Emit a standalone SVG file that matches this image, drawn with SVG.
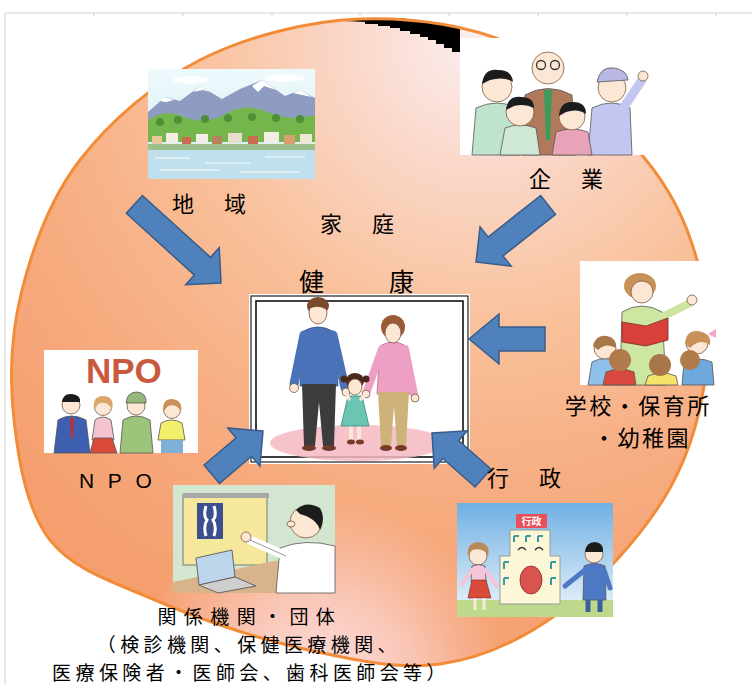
<svg xmlns="http://www.w3.org/2000/svg" width="752" height="685" viewBox="0 0 752 685">
  <defs>
    <style>
      .lbl { font-family: "Noto Sans CJK JP", "Noto Sans", sans-serif; fill: #000; }
      .lat { font-family: "Liberation Sans", Arial, sans-serif; fill: #000; }
      .arrow { fill: #4f81bd; stroke: #385d8a; stroke-width: 1.5; stroke-linejoin: miter; }
      .skin { fill: #fce6d4; stroke: #7a5a44; stroke-width: 0.8; }
      .ol { stroke: #555; stroke-width: 0.8; }
      .tick { stroke: #d0d0d0; stroke-width: 1; }
    </style>
    <!-- outline of the large oval -->
    <path id="oval" d="M360,19 C413.3,17 473,25.3 520,48 C567,70.7 612.5,119.7 642,155 C671.5,190.3 686.5,222.5 697,260 C707.5,297.5 710.7,340 705,380 C699.3,420 687.2,461.3 663,500 C638.8,538.7 597.2,584.7 560,612 C522.8,639.3 483.3,658 440,664 C396.7,670 347.5,658.7 300,648 C252.5,637.3 196.7,618 155,600 C113.3,582 73.5,570 50,540 C26.5,510 18.7,461.7 14,420 C9.3,378.3 11,333.3 22,290 C33,246.7 50.3,198.3 80,160 C109.7,121.7 153.3,83.5 200,60 C246.7,36.5 306.7,21 360,19 Z"/>
    <clipPath id="ovalClip"><use href="#oval"/></clipPath>
    <radialGradient id="peach" gradientUnits="userSpaceOnUse" cx="480" cy="40" r="640">
      <stop offset="0" stop-color="#fbeef0"/>
      <stop offset="0.22" stop-color="#fad6c6"/>
      <stop offset="0.45" stop-color="#f9c19b"/>
      <stop offset="0.7" stop-color="#f7ad82"/>
      <stop offset="1" stop-color="#f59e6e"/>
    </radialGradient>
    <radialGradient id="pinkGlow" gradientUnits="userSpaceOnUse" cx="320" cy="690" r="190">
      <stop offset="0" stop-color="#fde6ee" stop-opacity="0.95"/>
      <stop offset="0.5" stop-color="#fce0e4" stop-opacity="0.6"/>
      <stop offset="1" stop-color="#fbd8d8" stop-opacity="0"/>
    </radialGradient>
    <linearGradient id="skyL" x1="0" y1="0" x2="0" y2="1">
      <stop offset="0" stop-color="#eef9fc"/>
      <stop offset="1" stop-color="#d2ebf4"/>
    </linearGradient>
    <linearGradient id="skyG" x1="0" y1="0" x2="0" y2="1">
      <stop offset="0" stop-color="#6fb0e2"/>
      <stop offset="1" stop-color="#eef6fc"/>
    </linearGradient>
  </defs>

  <!-- page -->
  <rect width="752" height="685" fill="#fff"/>
  <g id="page-frame">
    <line x1="5" y1="13" x2="752" y2="13" class="tick"/>
    <line x1="5" y1="13" x2="5" y2="685" class="tick"/>
    <path class="tick" d="M94,13v3 M183,13v3 M272,13v3 M360,13v3 M449,13v3 M538,13v3 M627,13v3 M716,13v3"/>
  </g>

  <!-- background oval -->
  <g id="oval-bg">
    <use href="#oval" fill="url(#peach)"/>
    <rect x="0" y="450" width="752" height="235" fill="url(#pinkGlow)" clip-path="url(#ovalClip)"/>
    <polygon fill="#000" points="345,21 360,19 400,18 440,23 460,28 460,52 452,52 452,48 444,48 444,44 436,44 436,40 428,40 428,37 420,37 420,34 410,34 410,31 400,31 400,28 390,28 390,26 378,26 378,24 365,24 365,22"/>
    <use href="#oval" fill="none" stroke="#f28c38" stroke-width="3"/>
  </g>

  <!-- 地域 -->
  <g id="node-chiiki">
    <rect x="148" y="69" width="167" height="110" fill="url(#skyL)"/>
    <ellipse cx="190" cy="80" rx="18" ry="4" fill="#fff" opacity="0.8"/>
    <ellipse cx="285" cy="78" rx="20" ry="4" fill="#fff" opacity="0.8"/>
    <polygon fill="#8f9cc2" points="148,112 165,97 180,101 200,86 222,99 240,89 262,80 285,96 300,90 315,98 315,128 148,128"/>
    <polygon fill="#fff" points="193,92 200,86 210,92 203,90"/>
    <polygon fill="#fff" points="252,86 262,80 276,90 264,86 258,92"/>
    <polygon fill="#fff" points="293,93 300,90 312,97 302,95"/>
    <polygon fill="#fff" points="160,101 165,97 174,100 166,102"/>
    <path d="M148,120 Q165,108 185,117 T225,114 T268,112 T315,115 V142 H148 Z" fill="#74b64c"/>
    <g fill="#4f8f36">
      <circle cx="160" cy="122" r="4"/><circle cx="178" cy="120" r="4"/><circle cx="205" cy="119" r="4"/>
      <circle cx="228" cy="118" r="4"/><circle cx="252" cy="117" r="4"/><circle cx="276" cy="118" r="4"/>
      <circle cx="300" cy="119" r="4"/>
    </g>
    <g>
      <rect x="152" y="136" width="10" height="8" fill="#e8c89a"/>
      <rect x="166" y="133" width="12" height="10" fill="#f3efe6"/>
      <rect x="182" y="137" width="9" height="7" fill="#c96b4f"/>
      <rect x="196" y="134" width="12" height="9" fill="#f3efe6"/>
      <rect x="212" y="136" width="10" height="8" fill="#b5845a"/>
      <rect x="228" y="133" width="14" height="10" fill="#e8dccc"/>
      <rect x="248" y="136" width="10" height="8" fill="#c96b4f"/>
      <rect x="264" y="132" width="15" height="11" fill="#f3efe6"/>
      <rect x="284" y="135" width="11" height="9" fill="#d7a070"/>
      <rect x="300" y="134" width="12" height="10" fill="#efe8da"/>
    </g>
    <rect x="148" y="144" width="167" height="6" fill="#9dbf8b"/>
    <rect x="148" y="150" width="167" height="29" fill="#bfe0ec"/>
    <path d="M155,158 H190 M205,163 H250 M265,157 H305 M160,170 H220 M240,172 H300" stroke="#e6f4f8" stroke-width="1.5"/>
  </g>

  <!-- 企業 -->
  <g id="node-kigyo">
    <rect x="460" y="38" width="190" height="117" fill="#fff"/>
    <!-- old man -->
    <path d="M522,155 L525,95 Q548,82 572,95 L576,155 Z" fill="#b07a5a" class="ol"/>
    <path d="M544,90 L552,90 L550,140 L546,140 Z" fill="#3c9a5c"/>
    <circle cx="548" cy="68" r="16" class="skin"/>
    <circle cx="541" cy="65" r="4.5" fill="none" stroke="#333" stroke-width="1.3"/>
    <circle cx="555" cy="65" r="4.5" fill="none" stroke="#333" stroke-width="1.3"/>
    <!-- left boy -->
    <path d="M472,155 L476,108 Q497,98 518,108 L520,155 Z" fill="#bfe3cf" class="ol"/>
    <circle cx="497" cy="87" r="15" class="skin"/>
    <path d="M482,84 Q484,68 498,70 Q512,70 513,82 Q504,76 490,80 Z" fill="#1c1c1c"/>
    <!-- person with cap -->
    <path d="M588,155 L592,108 Q612,98 630,108 L632,155 Z" fill="#c3c6f0" class="ol"/>
    <path d="M622,110 L642,80" stroke="#c3c6f0" stroke-width="9" stroke-linecap="round"/>
    <circle cx="643" cy="76" r="5" class="skin"/>
    <circle cx="612" cy="88" r="14" class="skin"/>
    <path d="M597,82 Q600,66 614,68 Q627,70 628,80 Z" fill="#b8b8e2" class="ol"/>
    <!-- front kids -->
    <path d="M500,155 L505,128 Q520,122 536,128 L540,155 Z" fill="#cfe9d6" class="ol"/>
    <circle cx="520" cy="112" r="14" class="skin"/>
    <path d="M506,110 Q508,95 521,97 Q534,97 534,108 Q525,103 514,106 Z" fill="#1c1c1c"/>
    <path d="M552,155 L556,132 Q572,126 588,132 L592,155 Z" fill="#e9a3b8" class="ol"/>
    <circle cx="572" cy="117" r="13" class="skin"/>
    <path d="M559,116 Q560,101 573,102 Q586,102 586,114 Q578,108 566,112 Z" fill="#1c1c1c"/>
  </g>

  <!-- 学校・保育所・幼稚園 -->
  <g id="node-gakko">
    <rect x="580" y="261" width="140" height="124" fill="#fff"/>
    <ellipse cx="640" cy="286" rx="16" ry="13" fill="#c8915a"/>
    <path d="M620,385 L622,312 Q642,300 662,312 L666,385 Z" fill="#cde7a2" class="ol"/>
    <circle cx="642" cy="292" r="11" class="skin"/>
    <path d="M660,318 L690,303" stroke="#cde7a2" stroke-width="8" stroke-linecap="round"/>
    <circle cx="692" cy="300" r="5" class="skin"/>
    <polygon points="622,322 646,326 668,318 668,340 646,346 622,342" fill="#d8403a" stroke="#7a2a22" stroke-width="0.8"/>
    <!-- children -->
    <path d="M588,385 L592,362 Q605,355 620,362 L622,385 Z" fill="#8fc0ea" class="ol"/>
    <circle cx="605" cy="348" r="11" class="skin"/>
    <path d="M593,346 Q596,334 607,336 Q617,338 616,348 Q606,342 598,350 Z" fill="#a87648"/>
    <path d="M603,385 L606,372 Q620,366 634,372 L636,385 Z" fill="#d8483f" class="ol"/>
    <circle cx="620" cy="360" r="11" fill="#b07a4a"/>
    <path d="M645,385 L648,376 Q662,370 676,376 L678,385 Z" fill="#f5e26a" class="ol"/>
    <circle cx="660" cy="365" r="11" fill="#a87648"/>
    <path d="M682,385 L684,362 Q698,356 712,362 L714,385 Z" fill="#6fa8dc" class="ol"/>
    <circle cx="697" cy="343" r="11" class="skin"/>
    <path d="M685,344 Q686,330 698,331 Q712,333 710,345 Q700,338 690,348 Z" fill="#c8915a"/>
    <path d="M708,334 l8,-5 l0,9 Z" fill="#f2a7c3"/>
    <circle cx="690" cy="360" r="10" fill="#b07a4a"/>
  </g>

  <!-- NPO -->
  <g id="node-npo">
    <rect x="44" y="350" width="154" height="103" fill="#fff"/>
    <text x="86" y="383" font-family="Liberation Sans, Arial, sans-serif" font-weight="bold" font-size="35" fill="#c95a40">NPO</text>
    <!-- man in suit -->
    <path d="M54,453 L58,420 Q71,412 86,420 L90,453 Z" fill="#3f5fb0" class="ol"/>
    <path d="M70,418 L74,418 L73,438 L71,438 Z" fill="#c03030"/>
    <circle cx="71" cy="405" r="9" class="skin"/>
    <path d="M62,402 Q63,393 72,394 Q81,395 80,402 Z" fill="#1c1c1c"/>
    <!-- woman pink -->
    <path d="M92,440 L95,420 Q103,414 111,420 L114,440 Z" fill="#f3c4cf" class="ol"/>
    <path d="M90,453 L94,438 L112,438 L117,453 Z" fill="#d94a3a" class="ol"/>
    <circle cx="103" cy="407" r="8.5" class="skin"/>
    <path d="M94,410 Q92,396 103,396 Q115,396 112,410 Q108,400 98,404 Z" fill="#d9a76a"/>
    <!-- man in cap -->
    <path d="M120,453 L123,420 Q136,412 150,420 L153,453 Z" fill="#9cc47a" class="ol"/>
    <circle cx="136" cy="406" r="9" class="skin"/>
    <path d="M126,403 Q127,392 137,392 Q147,393 146,403 Z" fill="#93b87a" class="ol"/>
    <!-- woman yellow -->
    <path d="M158,440 L161,423 Q171,417 182,423 L185,440 Z" fill="#f2ef6a" class="ol"/>
    <rect x="161" y="440" width="22" height="13" fill="#7fb0d8"/>
    <circle cx="172" cy="410" r="8.5" class="skin"/>
    <path d="M163,412 Q162,399 172,399 Q183,400 181,412 Q177,403 168,406 Z" fill="#c8915a"/>
  </g>

  <!-- 関係機関・団体 -->
  <g id="node-kankei">
    <rect x="173" y="485" width="162" height="108" fill="#d3e6cf"/>
    <rect x="183" y="495" width="84" height="70" fill="#f5e79c" stroke="#777" stroke-width="1"/>
    <rect x="183" y="493" width="86" height="5" fill="#a8a8a8"/>
    <rect x="197" y="503" width="26" height="36" fill="#3b4f8f"/>
    <path d="M206,506 Q203,516 207,520 Q203,526 206,536 M214,506 Q217,516 213,520 Q217,526 214,536" stroke="#fff" stroke-width="3" fill="none"/>
    <polygon points="173,582 280,560 292,593 173,593" fill="#d9b38a"/>
    <polygon points="196,558 232,550 235,577 199,585" fill="#bcd5ea" stroke="#666" stroke-width="1"/>
    <polygon points="199,585 235,577 256,586 218,593" fill="#cfcfcf" stroke="#666" stroke-width="1"/>
    <path d="M276,593 L280,548 Q305,538 335,546 L335,593 Z" fill="#fff" class="ol"/>
    <path d="M286,556 L250,540" stroke="#fff" stroke-width="9" stroke-linecap="round"/>
    <path d="M286,556 L250,540" stroke="#555" stroke-width="0.6"/>
    <circle cx="246" cy="537" r="5" class="skin"/>
    <circle cx="306" cy="522" r="16" class="skin"/>
    <path d="M296,510 Q306,500 320,508 Q326,518 320,530 Q316,518 300,514 Z" fill="#1c1c1c"/>
    <ellipse cx="291" cy="524" rx="4" ry="3" class="skin"/>
  </g>

  <!-- 行政 -->
  <g id="node-gyosei">
    <rect x="457" y="503" width="156" height="114" fill="url(#skyG)"/>
    <rect x="457" y="600" width="156" height="17" fill="#bcd98c"/>
    <path d="M510,530 H550 V556 H560 V604 H500 V556 H510 Z" fill="#fcf7d6" stroke="#999" stroke-width="1"/>
    <rect x="516" y="514" width="31" height="14" fill="#e9505a"/>
    <text x="531.5" y="525" text-anchor="middle" class="lbl" font-size="10" style="fill:#fff" font-weight="bold">行政</text>
    <path d="M518,550 q4,-5 8,0 M535,550 q4,-5 8,0" stroke="#333" stroke-width="1.3" fill="none"/>
    <ellipse cx="531" cy="580" rx="11" ry="14" fill="#d9534f" stroke="#8a2a22" stroke-width="0.8"/>
    <path d="M514,536 v6 M514,536 h5 M526,536 v6 M526,536 h5 M538,536 v6 M538,536 h5 M504,562 v7 M504,562 h5 M504,578 v7 M504,578 h5 M551,562 v7 M551,562 h5 M551,578 v7 M551,578 h5" stroke="#3a9aa0" stroke-width="2" fill="none"/>
    <!-- woman -->
    <circle cx="478" cy="556" r="9" class="skin"/>
    <path d="M468,556 Q466,543 478,542 Q491,543 488,556 Q484,547 472,550 Z" fill="#b98a5a"/>
    <path d="M471,582 L472,566 Q478,563 485,566 L486,582 Z" fill="#f4c4d8" class="ol"/>
    <polygon points="468,598 472,580 486,580 491,598" fill="#d94a3a" stroke="#7a2a22" stroke-width="0.6"/>
    <path d="M475,598 v12 M484,598 v12" stroke="#fce6d4" stroke-width="3"/>
    <path d="M472,570 L462,584 M485,570 L497,586" stroke="#f4c4d8" stroke-width="4" stroke-linecap="round"/>
    <!-- man -->
    <circle cx="594" cy="554" r="9" class="skin"/>
    <path d="M585,552 Q586,542 595,542 Q604,543 603,552 Z" fill="#1c1c1c"/>
    <path d="M583,600 L584,566 Q594,561 605,566 L606,600 Z" fill="#4d79c4" class="ol"/>
    <path d="M588,600 v12 M600,600 v12" stroke="#3a5fa0" stroke-width="5"/>
    <path d="M585,570 L565,586 M604,570 L610,588" stroke="#4d79c4" stroke-width="5" stroke-linecap="round"/>
  </g>

  <!-- 家庭 / 健康 -->
  <g id="node-kazoku">
    <rect x="249" y="294" width="221" height="170" fill="#fff"/>
    <rect x="251" y="296" width="217" height="166" fill="none" stroke="#222" stroke-width="1.2"/>
    <rect x="256" y="301" width="207" height="156" fill="none" stroke="#111" stroke-width="1.6"/>
    <ellipse cx="358" cy="443" rx="88" ry="18" fill="#f4b9c2" opacity="0.85"/>
    <!-- father -->
    <path d="M302,332 Q318,322 334,332 L338,386 L300,386 Z" fill="#4a72b8" stroke="#2f4f80" stroke-width="0.8"/>
    <path d="M304,335 L294,384 M333,335 L345,388" stroke="#4a72b8" stroke-width="9" stroke-linecap="round"/>
    <circle cx="294" cy="388" r="4.5" class="skin"/>
    <circle cx="346" cy="392" r="4" class="skin"/>
    <path d="M302,384 H336 L334,446 H323 L319,402 L315,446 H304 Z" fill="#3c3c3c"/>
    <ellipse cx="309" cy="448" rx="7" ry="3" fill="#6b3a2a"/>
    <ellipse cx="329" cy="448" rx="7" ry="3" fill="#6b3a2a"/>
    <ellipse cx="318" cy="306" rx="11" ry="9" fill="#7a4a2a"/>
    <ellipse cx="318" cy="313" rx="9" ry="11" class="skin"/>
    <path d="M309,309 Q312,300 320,301 Q328,302 327,310 Q318,304 309,309 Z" fill="#7a4a2a"/>
    <!-- mother -->
    <path d="M380,346 Q393,338 406,346 L410,394 L377,394 Z" fill="#ee9fc4" stroke="#b56a8a" stroke-width="0.8"/>
    <path d="M382,349 L367,391 M405,349 L414,394" stroke="#ee9fc4" stroke-width="8" stroke-linecap="round"/>
    <circle cx="366" cy="394" r="4" class="skin"/>
    <circle cx="415" cy="398" r="4" class="skin"/>
    <path d="M378,392 H409 L406,446 H397 L394,406 L391,446 H381 Z" fill="#cdb27a"/>
    <ellipse cx="386" cy="448" rx="6" ry="3" fill="#7a3a2a"/>
    <ellipse cx="401" cy="448" rx="6" ry="3" fill="#7a3a2a"/>
    <ellipse cx="393" cy="327" rx="12" ry="12" fill="#9a5a34"/>
    <ellipse cx="393" cy="333" rx="8" ry="10" class="skin"/>
    <!-- child -->
    <path d="M351,425 v16 M359,425 v16" stroke="#fce6d4" stroke-width="4"/>
    <ellipse cx="351" cy="442" rx="4" ry="2.5" fill="#7a3a2a"/>
    <ellipse cx="360" cy="442" rx="4" ry="2.5" fill="#7a3a2a"/>
    <path d="M348,396 L362,396 L369,426 L341,426 Z" fill="#6cc4b3" stroke="#3a8a7a" stroke-width="0.8"/>
    <path d="M349,399 L346,393 M361,399 L366,394" stroke="#fce6d4" stroke-width="3.5" stroke-linecap="round"/>
    <circle cx="344" cy="379" r="3.5" fill="#4a2a1a"/>
    <circle cx="366" cy="379" r="3.5" fill="#4a2a1a"/>
    <ellipse cx="355" cy="381" rx="9" ry="8" fill="#4a2a1a"/>
    <ellipse cx="355" cy="387" rx="7" ry="8" class="skin"/>
  </g>

  <!-- arrows toward the family -->
  <g id="connectors">
    <polygon class="arrow" transform="translate(221,283) rotate(42.2)" points="0,0 -25,-25 -25,-12 -117,-12 -117,12 -25,12 -25,25"/>
    <polygon class="arrow" transform="translate(476,262) rotate(141.6)" points="0,0 -25,-25 -25,-12 -92,-12 -92,12 -25,12 -25,25"/>
    <polygon class="arrow" transform="translate(469,339) rotate(180)" points="0,0 -30,-25 -30,-12 -76,-12 -76,12 -30,12 -30,25"/>
    <polygon class="arrow" transform="translate(263,431) rotate(-40.1)" points="0,0 -25,-25 -25,-12 -67,-12 -67,12 -25,12 -25,25"/>
    <polygon class="arrow" transform="translate(432,433) rotate(-138.6)" points="0,0 -25,-25 -25,-12 -68,-12 -68,12 -25,12 -25,25"/>
  </g>

  <!-- labels -->
  <g id="labels">
    <text class="lbl" x="172" y="212" font-size="22" letter-spacing="4">地　域</text>
    <text class="lbl" x="529" y="187" font-size="22" letter-spacing="4">企　業</text>
    <text class="lbl" x="320" y="232" font-size="22" letter-spacing="4">家　庭</text>
    <text class="lbl" x="299" y="291" font-size="25" letter-spacing="5">健　　康</text>
    <text class="lat" x="79" y="488" font-size="21" letter-spacing="13.7">NPO</text>
    <text class="lbl" x="487" y="486" font-size="22" letter-spacing="4">行　政</text>
    <text class="lbl" font-size="22" letter-spacing="2.5" text-anchor="middle">
      <tspan x="642" y="414">学校・保育所</tspan>
      <tspan x="642" y="446">・幼稚園</tspan>
    </text>
    <text class="lbl" font-size="19" text-anchor="middle">
      <tspan x="252" y="624" letter-spacing="7.4">関係機関・団体</tspan>
      <tspan x="251" y="652" letter-spacing="4.4">（検診機関、保健医療機関、</tspan>
      <tspan x="251" y="679.5" letter-spacing="4.4">医療保険者・医師会、歯科医師会等）</tspan>
    </text>
  </g>
</svg>
